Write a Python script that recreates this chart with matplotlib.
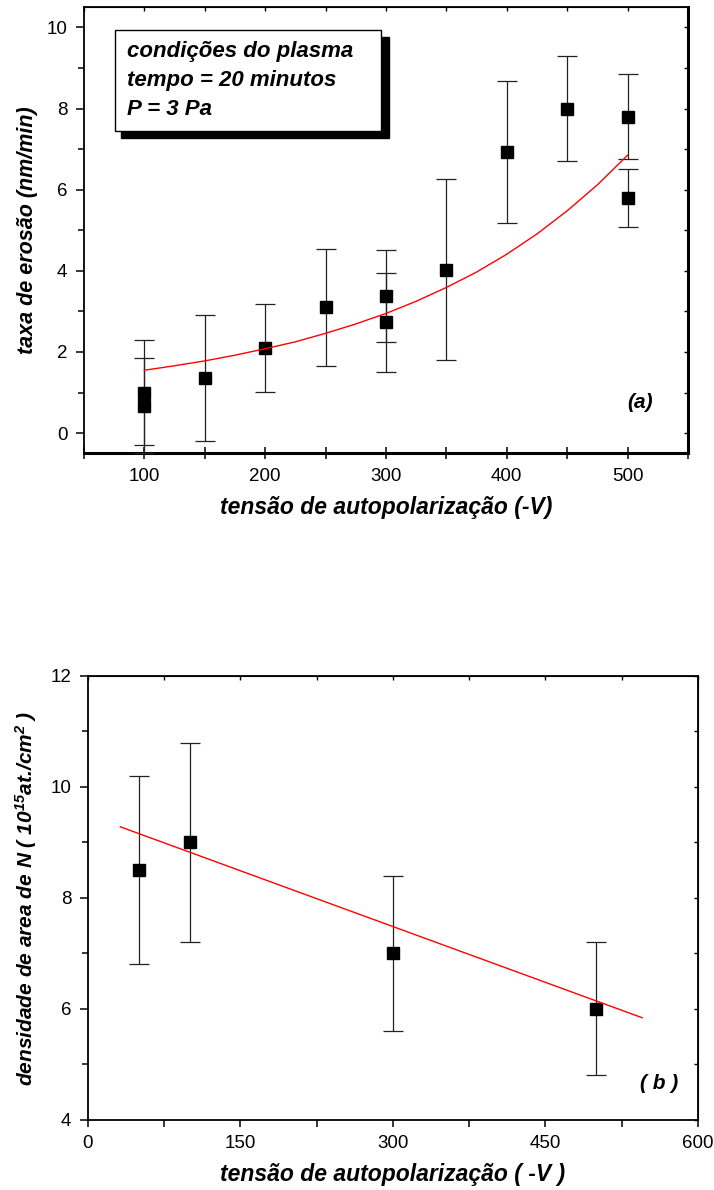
import numpy as np
import matplotlib
matplotlib.use("Agg")
import matplotlib.pyplot as plt
from matplotlib.patches import Rectangle
from matplotlib.ticker import MultipleLocator

plt.rcParams["mathtext.default"] = "regular"

# (a) erosion rate vs self-bias voltage
xa = [100, 100, 150, 200, 250, 300, 300, 350, 400, 450, 500, 500]
ya = [1.0, 0.68, 1.35, 2.1, 3.1, 3.38, 2.73, 4.03, 6.93, 8.0, 7.8, 5.8]
ea = [1.3, 1.17, 1.55, 1.08, 1.45, 1.14, 1.22, 2.23, 1.74, 1.3, 1.05, 0.72]
# exponential fit curve, read along its length
fit_xa = [100, 125, 150, 175, 200, 225, 250, 275, 300, 325, 350, 375,
          400, 425, 450, 475, 500]
fit_ya = [1.55, 1.66, 1.78, 1.92, 2.08, 2.25, 2.46, 2.69, 2.95, 3.25,
          3.59, 3.97, 4.41, 4.91, 5.48, 6.12, 6.85]

# (b) N areal density vs self-bias voltage
xb = [50, 100, 300, 500]
yb = [8.5, 9.0, 7.0, 6.0]
eb = [1.7, 1.8, 1.4, 1.2]
fit_xb = [32, 545]
fit_yb = [9.28, 5.84]

FONT = ["Liberation Sans", "DejaVu Sans"]

fig = plt.figure(figsize=(7.14, 11.9), dpi=100)
ax1 = fig.add_axes([0.1176, 0.619, 0.846, 0.375])
ax2 = fig.add_axes([0.123, 0.059, 0.8546, 0.373])


def style(ax, xmaj, xmin, xdir, xlen):
    for s in ax.spines.values():
        s.set_linewidth(1.3)
    ax.xaxis.set_major_locator(MultipleLocator(xmaj))
    ax.xaxis.set_minor_locator(MultipleLocator(xmin))
    ax.yaxis.set_major_locator(MultipleLocator(2))
    ax.yaxis.set_minor_locator(MultipleLocator(1))
    ax.tick_params(which="both", width=1.1, labelsize=13.5, pad=6,
                   top=False, right=False)
    ax.tick_params(axis="y", which="major", direction="out", length=6)
    ax.tick_params(axis="y", which="minor", direction="out", length=4)
    ax.tick_params(axis="x", which="both", direction=xdir, length=xlen)
    for lab in ax.get_xticklabels() + ax.get_yticklabels():
        lab.set_family(FONT)
    # inward ticks on the opposite sides, no labels
    top = ax.secondary_xaxis("top")
    top.xaxis.set_major_locator(MultipleLocator(xmaj))
    top.xaxis.set_minor_locator(MultipleLocator(xmin))
    top.tick_params(which="both", direction="in", length=3, width=1.0,
                    labeltop=False)
    right = ax.secondary_yaxis("right")
    right.yaxis.set_major_locator(MultipleLocator(2))
    right.yaxis.set_minor_locator(MultipleLocator(1))
    right.tick_params(which="both", direction="in", length=3, width=1.0,
                      labelright=False)


def points(ax, x, y, e):
    ax.errorbar(x, y, yerr=e, fmt="s", color="black", ms=8.5,
                ecolor="#222222", elinewidth=0.9, capsize=7, capthick=0.9,
                zorder=3)


def label_kw(size):
    return dict(fontsize=size, fontweight="bold", style="italic", family=FONT)


# panel (a)
points(ax1, xa, ya, ea)
ax1.plot(fit_xa, fit_ya, color="red", lw=1.0, zorder=4)
ax1.set_xlim(50, 550)
ax1.set_ylim(-0.5, 10.5)
style(ax1, 100, 50, "inout", 9)
ax1.spines["right"].set_linewidth(2.2)
ax1.spines["bottom"].set_linewidth(2.2)
ax1.set_xlabel("tensão de autopolarização (-V)", labelpad=8, **label_kw(16.5))
ax1.set_ylabel("taxa de erosão (nm/min)", labelpad=6, **label_kw(15.5))

# plasma conditions box with drop shadow
ax1.add_patch(Rectangle((81, 7.27), 221.5, 2.5, facecolor="black",
                        edgecolor="black", zorder=5))
ax1.add_patch(Rectangle((75.5, 7.45), 220.5, 2.49, facecolor="white",
                        edgecolor="black", lw=1.0, zorder=6))
for yy, txt in zip([9.4, 8.69, 7.98],
                   ["condições do plasma", "tempo = 20 minutos", "P = 3 Pa"]):
    ax1.text(86, yy, txt, va="center", ha="left", zorder=7, **label_kw(16))
ax1.text(510, 0.75, "(a)", ha="center", va="center", **label_kw(15))

# panel (b)
points(ax2, xb, yb, eb)
ax2.plot(fit_xb, fit_yb, color="red", lw=1.0, zorder=4)
ax2.set_xlim(0, 600)
ax2.set_ylim(4, 12)
style(ax2, 150, 75, "out", 5)
ax2.set_xlabel("tensão de autopolarização ( -V )", labelpad=8,
               **label_kw(16.5))
ax2.set_ylabel(r"densidade de area de N ( 10$^{15}$at./cm$^{2}$ )",
               labelpad=8, **label_kw(15))
ax2.text(562, 4.65, "( b )", ha="center", va="center", **label_kw(15))

fig.savefig("out.png", dpi=100)
